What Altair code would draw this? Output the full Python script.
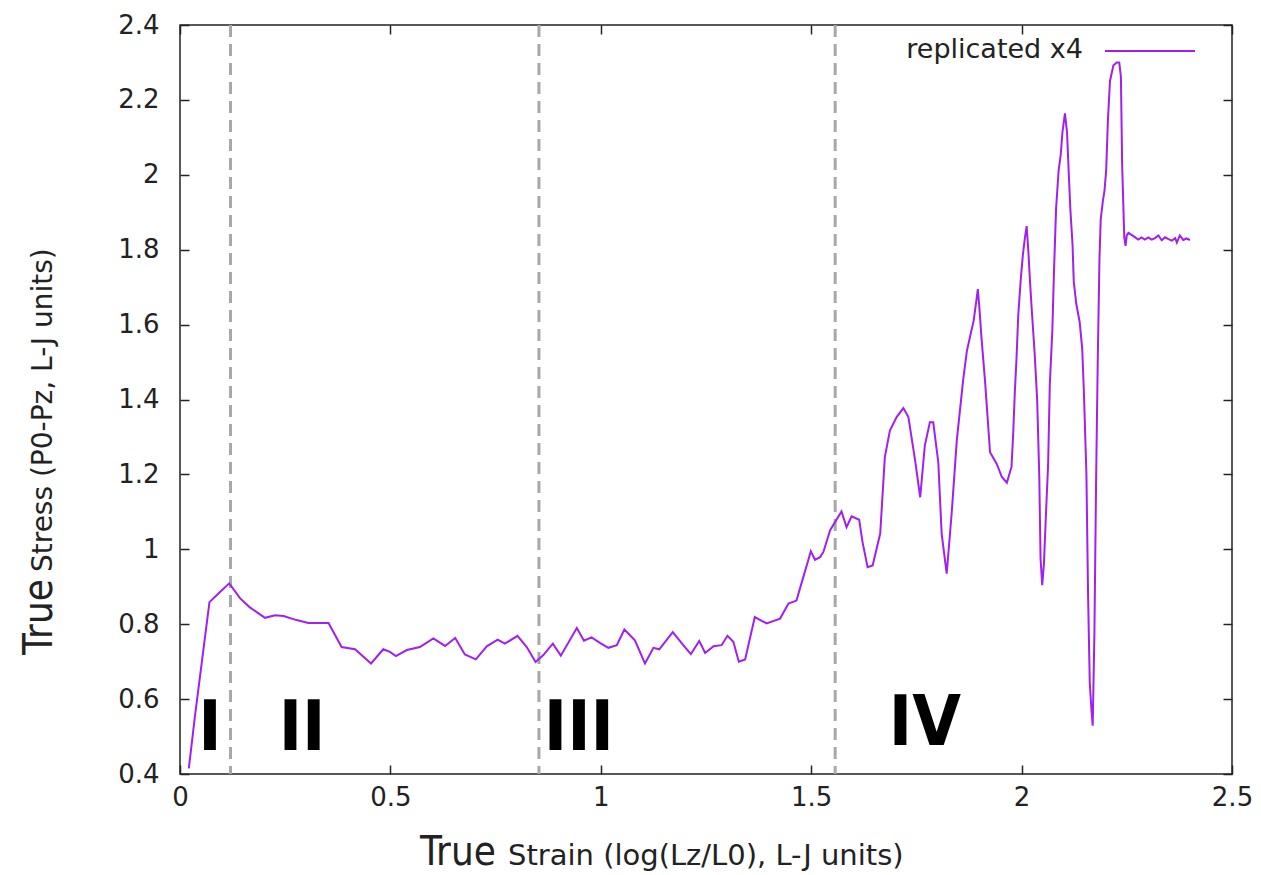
import altair as alt
import pandas as pd

# ---------------- data ----------------
strain = [
    0.021, 0.035, 0.070, 0.095, 0.117, 0.143, 0.166, 0.202, 0.226, 0.246,
    0.277, 0.305, 0.353, 0.384, 0.416, 0.454, 0.483, 0.499, 0.513, 0.539,
    0.570, 0.602, 0.630, 0.654, 0.677, 0.703, 0.729, 0.755, 0.772, 0.802,
    0.824, 0.845, 0.863, 0.886, 0.905, 0.943, 0.960, 0.978, 0.998, 1.018,
    1.038, 1.056, 1.081, 1.105, 1.125, 1.139, 1.171, 1.196, 1.214, 1.234,
    1.248, 1.268, 1.287, 1.301, 1.315, 1.328, 1.343, 1.366, 1.394, 1.426,
    1.446, 1.465, 1.481, 1.493, 1.499, 1.509, 1.521, 1.529, 1.545, 1.572,
    1.584, 1.596, 1.614, 1.622, 1.634, 1.646, 1.664, 1.675, 1.687, 1.703,
    1.719, 1.731, 1.747, 1.759, 1.770, 1.782, 1.790, 1.802, 1.810, 1.822,
    1.834, 1.846, 1.861, 1.870, 1.878, 1.886, 1.892, 1.896, 1.900, 1.905,
    1.913, 1.925, 1.941, 1.953, 1.965, 1.976, 1.980, 1.984, 1.988, 1.992,
    1.998, 2.003, 2.008, 2.012, 2.016, 2.020, 2.025, 2.031, 2.037, 2.042,
    2.045, 2.049, 2.053, 2.057, 2.063, 2.067, 2.073, 2.077, 2.082, 2.088,
    2.093, 2.097, 2.103, 2.108, 2.112, 2.116, 2.121, 2.124, 2.130, 2.138,
    2.144, 2.148, 2.154, 2.158, 2.162, 2.166, 2.169, 2.173, 2.177, 2.181,
    2.185, 2.188, 2.193, 2.197, 2.201, 2.205, 2.210, 2.218, 2.226, 2.232,
    2.236, 2.239, 2.244, 2.247, 2.250, 2.254, 2.262, 2.270, 2.277, 2.285,
    2.293, 2.301, 2.309, 2.317, 2.325, 2.333, 2.341, 2.349, 2.357, 2.365,
    2.369, 2.376, 2.384, 2.392, 2.400,
]
stress = [
    0.415, 0.550, 0.859, 0.886, 0.909, 0.869, 0.845, 0.817, 0.824, 0.822,
    0.811, 0.803, 0.803, 0.739, 0.733, 0.695, 0.733, 0.726, 0.715, 0.731,
    0.739, 0.762, 0.742, 0.763, 0.719, 0.706, 0.741, 0.759, 0.748, 0.769,
    0.739, 0.699, 0.717, 0.748, 0.716, 0.790, 0.756, 0.765, 0.750, 0.737,
    0.744, 0.786, 0.757, 0.695, 0.737, 0.733, 0.779, 0.744, 0.720, 0.755,
    0.723, 0.741, 0.744, 0.769, 0.753, 0.700, 0.706, 0.819, 0.802, 0.815,
    0.855, 0.863, 0.925, 0.971, 0.995, 0.972, 0.979, 0.993, 1.051, 1.101,
    1.059, 1.088, 1.079, 1.019, 0.952, 0.957, 1.042, 1.246, 1.317, 1.353,
    1.377, 1.353, 1.237, 1.139, 1.277, 1.339, 1.339, 1.233, 1.042, 0.935,
    1.099, 1.291, 1.451, 1.530, 1.570, 1.610, 1.660, 1.695, 1.640, 1.560,
    1.451, 1.259, 1.228, 1.193, 1.178, 1.220, 1.309, 1.422, 1.512, 1.625,
    1.720, 1.786, 1.833, 1.863, 1.797, 1.715, 1.625, 1.524, 1.399, 1.196,
    0.976, 0.904, 0.960, 1.071, 1.226, 1.440, 1.583, 1.744, 1.911, 2.012,
    2.054, 2.113, 2.164, 2.113, 2.006, 1.905, 1.815, 1.714, 1.655, 1.607,
    1.536, 1.422, 1.202, 0.875, 0.643, 0.571, 0.529, 0.773, 1.179, 1.506,
    1.774, 1.881, 1.929, 1.958, 2.012, 2.143, 2.250, 2.292, 2.300, 2.300,
    2.262, 2.024, 1.833, 1.810, 1.839, 1.845, 1.839, 1.833, 1.827, 1.833,
    1.827, 1.833, 1.827, 1.831, 1.838, 1.825, 1.833, 1.828, 1.824, 1.831,
    1.819, 1.838, 1.826, 1.830, 1.826,
]
series_name = "replicated x4"

phase_bounds = [0.12, 0.853, 1.557]
phase_labels = ["I", "II", "III", "IV"]
phase_label_x = [0.071, 0.290, 0.948, 1.770]
phase_label_y = [0.464, 0.464, 0.464, 0.477]

x_ticks = [0, 0.5, 1, 1.5, 2, 2.5]
y_ticks = [0.4, 0.6, 0.8, 1, 1.2, 1.4, 1.6, 1.8, 2, 2.2, 2.4]
x_title_a, x_title_b = "True", "Strain (log(Lz/L0), L-J units)"
y_title_a, y_title_b = "True", "Stress (P0-Pz, L-J units)"

# ---------------- styling ----------------
PURPLE = "#a020f0"
W, H = 1052, 749
FONT = "DejaVu Sans"
NARROW = "DejaVu Sans Condensed, Liberation Sans Narrow, Liberation Sans, sans-serif"
AX = "#222222"

df = pd.DataFrame({"strain": strain, "stress": stress, "series": series_name})
bounds_df = pd.DataFrame({"b": phase_bounds})
labels_df = pd.DataFrame({"t": phase_labels, "x": phase_label_x, "y": phase_label_y})

xs = alt.Scale(domain=[0, 2.5], nice=False, zero=False)
ys = alt.Scale(domain=[0.4, 2.4], nice=False, zero=False)

x_axis = alt.Axis(orient="bottom", values=x_ticks, format="~g", title=None,
                  offset=-9, tickSize=9, tickWidth=1.5, tickColor=AX,
                  domain=False, grid=False, labelFont=FONT, labelFontSize=26,
                  labelColor=AX, labelPadding=10, labelFlush=False)
y_axis = alt.Axis(orient="left", values=y_ticks, format="~g", title=None,
                  offset=-9, tickSize=9, tickWidth=1.5, tickColor=AX,
                  domain=False, grid=False, labelFont=FONT, labelFontSize=26,
                  labelColor=AX, labelPadding=21, labelFlush=False)

line = alt.Chart(df).mark_line(color=PURPLE, strokeWidth=2, clip=True).encode(
    x=alt.X("strain:Q", scale=xs, axis=x_axis),
    y=alt.Y("stress:Q", scale=ys, axis=y_axis),
)

mirror = alt.Chart(df).mark_point(opacity=0).encode(
    x=alt.X("strain:Q", scale=xs,
            axis=alt.Axis(orient="top", values=x_ticks, labels=False, title=None,
                          offset=-9, tickSize=9, tickWidth=1.5, tickColor=AX,
                          domain=False, grid=False)),
    y=alt.Y("stress:Q", scale=ys,
            axis=alt.Axis(orient="right", values=y_ticks, labels=False, title=None,
                          offset=-9, tickSize=9, tickWidth=1.5, tickColor=AX,
                          domain=False, grid=False)),
)

rules = alt.Chart(bounds_df).mark_rule(color="#a8a8a8", strokeWidth=3,
                                       strokeDash=[12, 7]).encode(
    x=alt.X("b:Q", scale=xs, axis=None),
)

roman = alt.Chart(labels_df).mark_text(font=NARROW, fontWeight="bold", fontSize=70,
                                       baseline="alphabetic", align="center",
                                       color="black").encode(
    x=alt.X("x:Q", scale=xs, axis=None),
    y=alt.Y("y:Q", scale=ys, axis=None),
    text="t:N",
)

# key (gnuplot style: label, then sample line)
key_text = alt.Chart(pd.DataFrame({"t": [series_name]})).mark_text(
    font=FONT, fontSize=27, align="right", baseline="middle", color=AX).encode(
    x=alt.value(903), y=alt.value(25), text="t:N")
key_line = alt.Chart(pd.DataFrame({"t": [series_name]})).mark_rule(
    color=PURPLE, strokeWidth=2).encode(
    x=alt.value(925), x2=alt.value(1015), y=alt.value(26))

# axis titles (two fonts each)
xt_a = alt.Chart(pd.DataFrame({"t": [x_title_a]})).mark_text(
    font=NARROW, fontSize=40, align="left", baseline="alphabetic", color=AX).encode(
    x=alt.value(240), y=alt.value(840), text="t:N")
xt_b = alt.Chart(pd.DataFrame({"t": [x_title_b]})).mark_text(
    font=FONT, fontSize=29, align="left", baseline="alphabetic", color=AX).encode(
    x=alt.value(328), y=alt.value(840), text="t:N")
yt_a = alt.Chart(pd.DataFrame({"t": [y_title_a]})).mark_text(
    font=NARROW, fontSize=40, align="left", baseline="alphabetic", angle=270,
    color=AX).encode(x=alt.value(-128), y=alt.value(630), text="t:N")
yt_b = alt.Chart(pd.DataFrame({"t": [y_title_b]})).mark_text(
    font=FONT, fontSize=28, align="left", baseline="alphabetic", angle=270,
    color=AX).encode(x=alt.value(-128), y=alt.value(547), text="t:N")

chart = alt.layer(
    rules, line, roman, key_text, key_line, xt_a, xt_b, yt_a, yt_b, mirror
).resolve_axis(x="independent", y="independent").properties(
    width=W, height=H,
    autosize=alt.AutoSizeParams(type="none"),
    padding={"left": 180, "top": 25, "right": 29, "bottom": 101},
    background="white",
).configure_view(stroke=AX, strokeWidth=1.5)

chart.save("out.html", embed_options={"renderer": "svg", "actions": False})
